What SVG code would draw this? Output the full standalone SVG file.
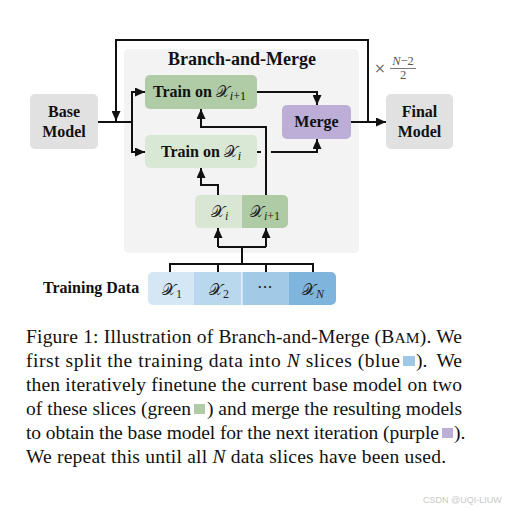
<svg xmlns="http://www.w3.org/2000/svg" width="508" height="510" viewBox="0 0 508 510">
<style>
.b{font-family:'Liberation Serif','Times New Roman',serif;font-weight:bold;font-size:16px;fill:#111}
.m{font-family:'DejaVu Serif','Liberation Serif',serif;font-size:16px;fill:#222}
.s{font-family:'Liberation Serif','Times New Roman',serif;font-size:12px;font-weight:normal}
.cap{font-family:'Liberation Serif','Times New Roman',serif;font-size:19.5px;fill:#111}
.ln{fill:none;stroke:#111;stroke-width:2}
.ar{marker-end:url(#ah)}
</style>
<defs>
<marker id="ah" markerUnits="userSpaceOnUse" markerWidth="10" markerHeight="9" refX="10" refY="4.5" orient="auto">
<path d="M0,0 L10,4.5 L0,9 z" fill="#111"/>
</marker>
<clipPath id="dclip"><rect x="148" y="272" width="188" height="33" rx="5"/></clipPath>
</defs>
<rect width="508" height="510" fill="#fff"/>
<g id="panel">
<rect x="124" y="49" width="235" height="204" rx="5" fill="#f3f3f3"/>
<text class="b" x="242" y="65" text-anchor="middle" style="font-size:18px">Branch-and-Merge</text>
</g>
<g id="base-model">
<rect x="30" y="94" width="68" height="55" rx="5" fill="#e1e1e1"/>
<text class="b" x="64" y="117" text-anchor="middle">Base</text>
<text class="b" x="64" y="137" text-anchor="middle">Model</text>
</g>
<g id="final-model">
<rect x="386" y="94" width="67" height="55" rx="5" fill="#e1e1e1"/>
<text class="b" x="419.5" y="117" text-anchor="middle">Final</text>
<text class="b" x="419.5" y="137" text-anchor="middle">Model</text>
</g>
<g id="train-i1">
<rect x="145" y="75" width="112" height="34" rx="5" fill="#afcca7"/>
<text class="b" x="153" y="97">Train on <tspan class="m" font-weight="normal">𝒳</tspan><tspan class="s" dy="3"><tspan font-style="italic">i</tspan>+1</tspan></text>
</g>
<g id="train-i">
<rect x="145" y="135" width="112" height="33" rx="5" fill="#d9e7d5"/>
<text class="b" x="161" y="157">Train on <tspan class="m" font-weight="normal">𝒳</tspan><tspan class="s" dy="3" font-style="italic">i</tspan></text>
</g>
<g id="merge">
<rect x="282" y="105" width="69" height="34" rx="5" fill="#bdaed7"/>
<text class="b" x="316.5" y="127" text-anchor="middle">Merge</text>
</g>
<g id="slices-pair">
<path d="M200,195 H242 V228 H200 A5,5 0 0 1 195,223 V200 A5,5 0 0 1 200,195 z" fill="#d9e6d4"/>
<path d="M242,195 H283 A5,5 0 0 1 288,200 V223 A5,5 0 0 1 283,228 H242 z" fill="#afcba6"/>
<text class="m" x="211" y="217">𝒳<tspan class="s" dy="3" font-style="italic">i</tspan></text>
<text class="m" x="250" y="217">𝒳<tspan class="s" dy="3"><tspan font-style="italic">i</tspan>+1</tspan></text>
</g>
<g id="training-data">
<text class="b" x="43" y="293">Training Data</text>
<g clip-path="url(#dclip)">
<rect x="148" y="272" width="46" height="33" fill="#d5e7f4"/>
<rect x="194" y="272" width="48" height="33" fill="#bad8ed"/>
<rect x="242" y="272" width="47" height="33" fill="#a2c9e6"/>
<rect x="289" y="272" width="47" height="33" fill="#7fb4dc"/>
<line x1="242" y1="272" x2="242" y2="305" stroke="#fff" stroke-width="1"/>
</g>
<text class="m" x="162" y="295">𝒳<tspan class="s" dy="3">1</tspan></text>
<text class="m" x="209" y="295">𝒳<tspan class="s" dy="3">2</tspan></text>
<text class="m" x="265" y="293" text-anchor="middle">···</text>
<text class="m" x="302" y="295">𝒳<tspan class="s" dy="3" font-style="italic">N</tspan></text>
</g>
<g id="iter-label">
<text x="374" y="73" style="font-family:'DejaVu Sans',sans-serif;font-size:14px" fill="#666">×</text>
<text x="403" y="65" text-anchor="middle" style="font-family:'Liberation Serif',serif;font-size:12.5px" fill="#555"><tspan font-style="italic">N</tspan>−2</text>
<line x1="390" y1="68.5" x2="416" y2="68.5" stroke="#555" stroke-width="0.8"/>
<text x="403" y="78.5" text-anchor="middle" style="font-family:'Liberation Serif',serif;font-size:12.5px" fill="#555">2</text>
</g>
<g id="connectors">
<path class="ln" d="M98,122 H132"/>
<path class="ln ar" d="M132,122 V92 H145"/>
<path class="ln ar" d="M132,122 V152 H145"/>
<path class="ln ar" d="M368,122 V40 H116 V121"/>
<path class="ln ar" d="M351,122 H386"/>
<path class="ln ar" d="M257,92 H317 V105"/>
<path class="ln" d="M257,152 H261"/>
<path class="ln ar" d="M271,152 H317 V139"/>
<path class="ln ar" d="M266,195 V127 H201 V109"/>
<path class="ln ar" d="M218,195 V185 H201 V168"/>
<path class="ln" d="M170,272 V264 H313 V272 M218,264 V272 M266,264 V272 M242,264 V247 M218,247 H266"/>
<path class="ln ar" d="M218,247 V228"/>
<path class="ln ar" d="M266,247 V228"/>
</g>
<g id="caption">
<text class="cap" x="26" y="343" textLength="436">Figure 1: Illustration of Branch-and-Merge (B<tspan style="font-size:15.5px">AM</tspan>). We</text>
<text class="cap" x="26" y="367" textLength="374">first split the training data into <tspan font-style="italic">N</tspan> slices (blue</text>
<rect x="403" y="356" width="12" height="10" fill="#9fc8e7"/>
<text class="cap" x="416" y="367">).</text>
<text class="cap" x="462" y="367" text-anchor="end">We</text>
<text class="cap" x="26" y="391" textLength="436">then iteratively finetune the current base model on two</text>
<text class="cap" x="26" y="415" textLength="165">of these slices (green</text>
<rect x="194" y="404" width="11" height="10" fill="#afcca7"/>
<text class="cap" x="207" y="415" textLength="255">) and merge the resulting models</text>
<text class="cap" x="26" y="439" textLength="413">to obtain the base model for the next iteration (purple</text>
<rect x="442" y="428" width="11" height="10" fill="#bdaed7"/>
<text class="cap" x="454" y="439">).</text>
<text class="cap" x="26" y="463" textLength="420">We repeat this until all <tspan font-style="italic">N</tspan> data slices have been used.</text>
</g>
<text x="423" y="503" style="font-family:'Liberation Sans',sans-serif;font-size:9px" fill="#c8c8c8">CSDN @UQI-LIUW</text>
</svg>
